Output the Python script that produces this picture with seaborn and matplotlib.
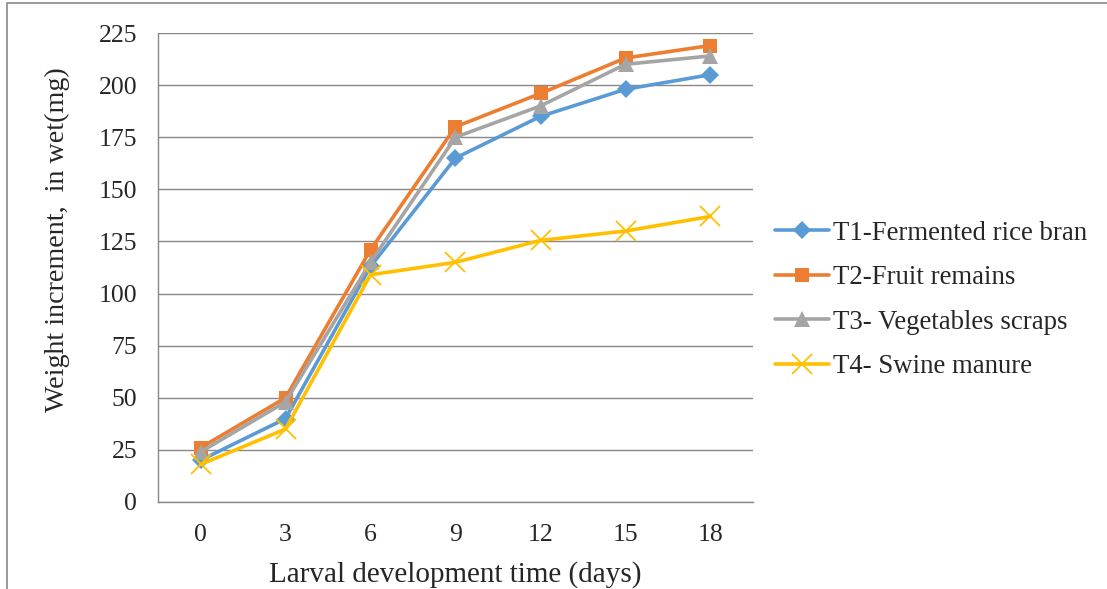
import matplotlib
matplotlib.use("Agg")
import matplotlib.pyplot as plt
import seaborn as sns
import pandas as pd
import numpy as np
from matplotlib.patches import Rectangle

days = ["0", "3", "6", "9", "12", "15", "18"]
t1 = [20, 40, 113, 165, 185, 198, 205]
t2 = [26, 50, 121, 180, 196, 213, 219]
t3 = [24, 48, 115, 175, 190, 210, 214]
t4 = [18, 35, 109, 115, 125.5, 130, 137]
series_names = ["T1-Fermented rice bran", "T2-Fruit remains",
                "T3- Vegetables scraps", "T4- Swine manure"]
colors = ["#5B9BD5", "#ED7D31", "#A5A5A5", "#FFC000"]
marker_styles = ["D", "s", "^", "x"]
marker_sizes = [9, 10, 11, 14]
yticks = [0, 25, 50, 75, 100, 125, 150, 175, 200, 225]

sns.set_theme(style="white")
plt.rcParams['font.family'] = ['Liberation Serif', 'DejaVu Serif']

fig = plt.figure(figsize=(11.07, 5.89), dpi=100)
ax = fig.add_axes([158/1107, 1-502/589, (753-158)/1107, (502-33)/589])

for name, vals, c, m, ms in zip(series_names, [t1, t2, t3, t4], colors,
                                marker_styles, marker_sizes):
    d = pd.DataFrame({"pos": range(len(vals)), "value": vals})
    kw = dict(markeredgewidth=1.3) if m == "x" else dict(markeredgewidth=0)
    sns.lineplot(data=d, x="pos", y="value", color=c, marker=m, markersize=ms,
                 markerfacecolor=c, markeredgecolor=c,
                 linewidth=2.6, label=name, ax=ax, **kw)

ax.set_xlim(-0.5, 6.5)
ax.set_ylim(0, 225)
ax.set_yticks(yticks)
ax.set_yticklabels([str(v) for v in yticks], fontsize=18.5)
ax.set_xticks(range(len(days)))
ax.set_xticklabels(days, fontsize=18.5)
ax.set_xticks(np.arange(-0.5, 7, 1), minor=True)
ax.tick_params(axis="x", which="major", length=0, pad=16)
ax.tick_params(axis="x", which="minor", length=6, color="#898989", width=1)
ax.tick_params(axis="y", which="major", length=7, color="#898989", width=1, pad=8)
ax.yaxis.grid(True, color="#898989", linewidth=1)
ax.set_axisbelow(True)
for s in ["top", "right"]:
    ax.spines[s].set_visible(False)
for s in ["left", "bottom"]:
    ax.spines[s].set_color("#898989")
    ax.spines[s].set_linewidth(1)

ax.set_xlabel("Larval development time (days)", fontsize=21, labelpad=11)
ax.set_ylabel("Weight increment,  in wet(mg)", fontsize=20.2)
ax.yaxis.set_label_coords(-0.148, (502-240)/469)

leg = ax.legend(loc="center left", bbox_to_anchor=((775-158)/595, (502-300)/469),
                frameon=False, fontsize=19.3, handlelength=2.0, labelspacing=0.73,
                handletextpad=0.15, borderaxespad=0, borderpad=0)
for h in leg.legend_handles:
    h.set_linewidth(2.6)

fig.patches.append(Rectangle((7/1107, -0.1), 1.2, 1 - 3/589 + 0.1,
                             transform=fig.transFigure, fill=False,
                             edgecolor="#898989", linewidth=1.2))

fig.savefig("out.png", dpi=100)
